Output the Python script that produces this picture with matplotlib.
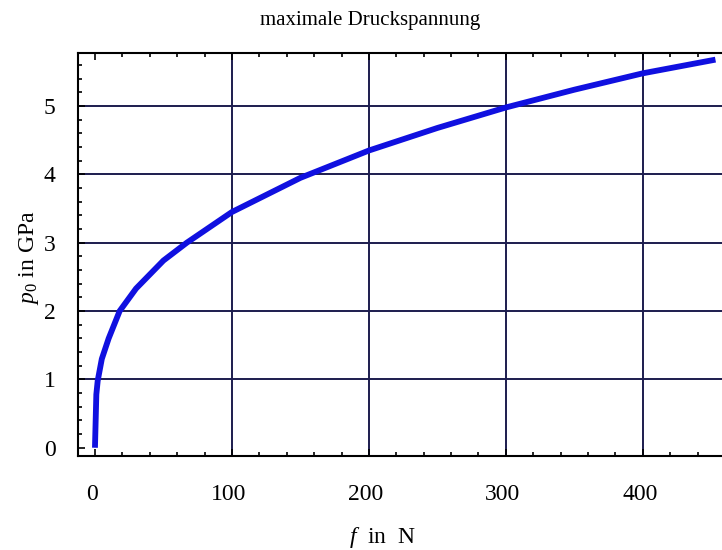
import matplotlib
matplotlib.use("Agg")
import matplotlib.pyplot as plt
import matplotlib.transforms as mtransforms
from matplotlib.ticker import MultipleLocator

# Data
force_N = [0, 1, 2, 5, 10, 18, 30, 50, 67, 100, 150, 200, 250, 300, 350, 400, 453]
p0_GPa = [0.0, 0.78, 0.98, 1.3, 1.6, 2.0, 2.33, 2.74, 3.0, 3.45, 3.95, 4.35, 4.68, 4.98, 5.24, 5.48, 5.68]
x_ticks = [0, 100, 200, 300, 400]
y_ticks = [0, 1, 2, 3, 4, 5]
x_grid = [100, 200, 300, 400]
y_grid = [1, 2, 3, 4, 5]

plt.rcParams['font.family'] = ['Liberation Serif', 'DejaVu Serif']
plt.rcParams['mathtext.fontset'] = 'custom'
plt.rcParams['mathtext.it'] = 'Liberation Serif:italic'
plt.rcParams['mathtext.rm'] = 'Liberation Serif'

W, H = 722, 550
fig = plt.figure(figsize=(7.22, 5.5), dpi=100)
ax = fig.add_axes([0.108, 0.171, 0.9, 0.733])

for g in x_grid:
    ax.axvline(g, color='#1c1c4e', lw=1.4, zorder=1)
for g in y_grid:
    ax.axhline(g, color='#1c1c4e', lw=1.4, zorder=1)

ax.plot(force_N, p0_GPa, color='#1010e0', lw=4.2, solid_capstyle='butt', zorder=3)

ax.set_xlim(-12.4, 462)
ax.set_ylim(-0.12, 5.78)
ax.set_xticks(x_ticks)
ax.set_yticks(y_ticks)
ax.xaxis.set_minor_locator(MultipleLocator(20))
ax.yaxis.set_minor_locator(MultipleLocator(0.2))
ax.tick_params(which='both', direction='in', top=True, right=False, labelsize=17, width=1.2)
ax.tick_params(which='major', length=5)
ax.tick_params(which='minor', length=3)
ax.tick_params(axis='x', pad=20)
ax.tick_params(axis='y', pad=16)
shift = mtransforms.ScaledTranslation(-3 / 100, 0, fig.dpi_scale_trans)
for lab in ax.get_xticklabels():
    lab.set_transform(lab.get_transform() + shift)
for s in ax.spines.values():
    s.set_linewidth(1.5)
    s.set_color('black')

fig.text(370 / W, 1 - 20 / H, 'maximale Druckspannung', fontsize=15,
         ha='center', va='center')
ax.set_xlabel(r'$f$  in  N', fontsize=17)
ax.set_ylabel(r'$p_0$ in GPa', fontsize=17)
ax.xaxis.set_label_coords(383 / W, 1 - 537 / H, transform=fig.transFigure)
ax.yaxis.set_label_coords(29 / W, 1 - 258 / H, transform=fig.transFigure)
ax.xaxis.label.set_va('center')
ax.yaxis.label.set_va('center')

fig.savefig('out.png', dpi=100)
